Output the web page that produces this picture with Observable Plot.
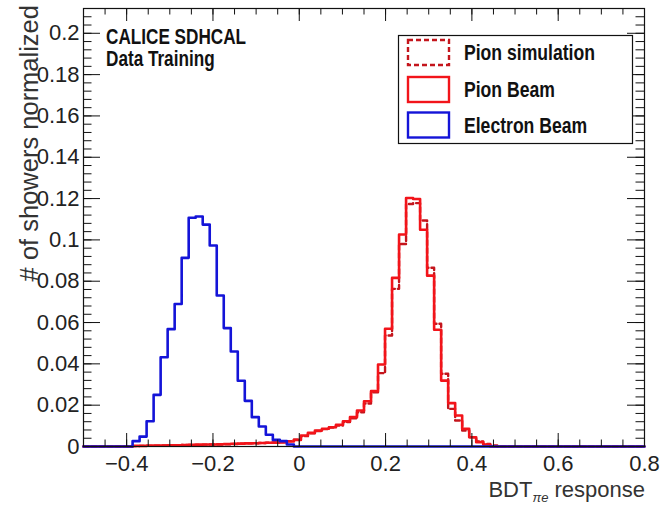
<!DOCTYPE html>
<html><head><meta charset="utf-8">
<script src="https://cdn.jsdelivr.net/npm/d3@7"></script>
<script src="https://cdn.jsdelivr.net/npm/@observablehq/plot@0.6"></script>
<style>
html,body{margin:0;padding:0;background:#fff;}
#chart svg{display:block;}
</style>
</head><body><div id="chart"></div>
<script>
// 80 bins from -0.5 to 0.8
const binStart = -0.5;
const binEnd = 0.8;
const electronBeam = [
  0,0,0,0,0,0,0,
  0.0026,0.0048,0.0122,0.0250,0.0432,0.0568,0.0690,0.0913,0.1107,0.1113,
  0.1074,0.0973,0.0731,0.0573,0.0460,0.0318,0.0221,0.0142,0.0097,0.0057,
  0.0032,0.0026,0.0010,
  0,0,0,0,0,0,0,0,0,0, 0,0,0,0,0,0,0,0,0,0, 0,0,0,0,0,0,0,0,0,0,
  0,0,0,0,0,0,0,0,0,0, 0,0,0,0,0,0,0,0,0,0
];
const pionBeam = [
  0,0,0,0,0,0,0,
  0.0003,0.0003,0.0004,0.0004,0.0005,0.0006,0.0006,0.0007,0.0008,0.0009,
  0.0010,0.0010,0.0011,0.0012,0.0013,0.0014,0.0015,0.0016,0.0017,0.0018,
  0.0019,0.0020,0.0024,
  0.0032,0.0053,0.0066,0.0077,0.0086,0.0093,0.0105,0.0122,0.0142,0.0174,
  0.0219,0.0268,0.0397,0.0570,0.0816,0.1026,0.1203,0.1198,0.1049,0.0827,
  0.0565,0.0319,0.0210,0.0150,0.0086,0.0045,0.0021,0.0010,
  0,0,0,0,0,0,0,0,0,0, 0,0,0,0,0,0,0,0,0,0, 0,0
];
const pionSimulation = [
  0,0,0,0,0,0,0,
  0.0002,0.0003,0.0003,0.0004,0.0005,0.0005,0.0006,0.0007,0.0007,0.0008,
  0.0009,0.0010,0.0010,0.0011,0.0012,0.0014,0.0015,0.0016,0.0017,0.0019,
  0.0020,0.0022,0.0026,
  0.0033,0.0050,0.0064,0.0075,0.0084,0.0092,0.0102,0.0118,0.0137,0.0166,
  0.0208,0.0262,0.0355,0.0537,0.0763,0.0980,0.1174,0.1178,0.1094,0.0865,
  0.0594,0.0352,0.0182,0.0126,0.0077,0.0045,0.0025,0.0012,0.0005,
  0,0,0,0,0,0,0,0,0,0, 0,0,0,0,0,0,0,0,0,0, 0
];
const xMajorTicks = [-0.4, -0.2, 0, 0.2, 0.4, 0.6, 0.8];
const xTickLabels = ["\u22120.4", "\u22120.2", "0", "0.2", "0.4", "0.6", "0.8"];
const yMajorTicks = [0, 0.02, 0.04, 0.06, 0.08, 0.1, 0.12, 0.14, 0.16, 0.18, 0.2];
const yTickLabels = ["0", "0.02", "0.04", "0.06", "0.08", "0.1", "0.12", "0.14", "0.16", "0.18", "0.2"];
const seriesNames = ["Pion simulation", "Pion Beam", "Electron Beam"];
const seriesColors = ["#c4151c", "#f2141a", "#1414d8"];
const yMax = 0.212;

const W = 669, H = 505;
const mL = 83, mR = 25, mT = 8, mB = 59;
const iw = W - mL - mR, ih = H - mT - mB;
const xMinorTicks = d3.range(-0.45, 0.8001, 0.05);
const yMinorTicks = d3.range(0, yMax, 0.004);

function steps(vals) {
  const w = (binEnd - binStart) / vals.length;
  const pts = vals.map((v, k) => ({x: binStart + k * w, y: v}));
  pts.push({x: binEnd, y: vals[vals.length - 1]});
  return pts;
}
const xLab = new Map(xMajorTicks.map((t, i) => [t, xTickLabels[i]]));
const yLab = new Map(yMajorTicks.map((t, i) => [t, yTickLabels[i]]));

const chart = Plot.plot({
  width: W, height: H,
  marginLeft: mL, marginRight: mR, marginTop: mT, marginBottom: mB,
  x: {domain: [binStart, binEnd]},
  y: {domain: [0, yMax]},
  style: {fontFamily: "'Liberation Sans', Arial, sans-serif", background: "white", color: "#222"},
  marks: [
    Plot.line(steps(pionSimulation), {x: "x", y: "y", curve: "step-after", stroke: seriesColors[0], strokeWidth: 2.4, strokeDasharray: "5,3"}),
    Plot.line(steps(pionBeam), {x: "x", y: "y", curve: "step-after", stroke: seriesColors[1], strokeWidth: 2.6}),
    Plot.line(steps(electronBeam), {x: "x", y: "y", curve: "step-after", stroke: seriesColors[2], strokeWidth: 2.6}),
    // inward ticks on all four sides
    Plot.tickX(xMajorTicks, {x: d => d, insetTop: ih - 13, stroke: "#111"}),
    Plot.tickX(xMinorTicks, {x: d => d, insetTop: ih - 6.5, stroke: "#111"}),
    Plot.tickX(xMajorTicks, {x: d => d, insetBottom: ih - 13, stroke: "#111"}),
    Plot.tickX(xMinorTicks, {x: d => d, insetBottom: ih - 6.5, stroke: "#111"}),
    Plot.tickY(yMajorTicks, {y: d => d, insetRight: iw - 17, stroke: "#111"}),
    Plot.tickY(yMinorTicks, {y: d => d, insetRight: iw - 8.5, stroke: "#111"}),
    Plot.tickY(yMajorTicks, {y: d => d, insetLeft: iw - 17, stroke: "#111"}),
    Plot.tickY(yMinorTicks, {y: d => d, insetLeft: iw - 8.5, stroke: "#111"}),
    Plot.frame({stroke: "#111", strokeWidth: 1.2}),
    Plot.axisX(xMajorTicks, {anchor: "bottom", tickSize: 0, tickPadding: 9, tickFormat: d => xLab.get(d), fontSize: 22, label: null}),
    Plot.axisY(yMajorTicks, {anchor: "left", tickSize: 0, tickPadding: 4, tickFormat: d => yLab.get(d), fontSize: 22, label: null})
  ]
});
document.getElementById("chart").appendChild(chart);

const svg = d3.select(chart);
const ff = "'Liberation Sans', Arial, sans-serif";
// y axis title
svg.append("text")
  .attr("transform", "translate(38,5) rotate(-90)")
  .attr("text-anchor", "end")
  .attr("font-family", ff).attr("font-size", 25.5).attr("fill", "#333")
  .text("# of showers normalized");
// x axis title with subscript
const xt = svg.append("text")
  .attr("x", 645).attr("y", 497)
  .attr("text-anchor", "end")
  .attr("font-family", ff).attr("font-size", 22).attr("fill", "#333");
xt.append("tspan").text("BDT");
xt.append("tspan").attr("dy", 5).attr("font-size", 13).attr("font-style", "italic").text("\u03c0e");
xt.append("tspan").attr("dy", -5).text(" response");

// top-left labels
const addBold = (txt, x, y, size) => svg.append("text")
  .attr("transform", `translate(${x},${y}) scale(0.88,1.1)`)
  .attr("text-anchor", "start")
  .attr("font-family", ff).attr("font-weight", "bold").attr("font-size", size).attr("fill", "#111")
  .text(txt);
addBold("CALICE SDHCAL", 106, 44, 19.5);
addBold("Data Training", 106, 66, 19.5);

// legend
const lg = svg.append("g");
lg.append("rect").attr("x", 398.5).attr("y", 35.5).attr("width", 234).attr("height", 108)
  .attr("fill", "white").attr("stroke", "#111").attr("stroke-width", 1.2);
const rowsY = [52.5, 89.5, 125];
seriesNames.forEach((name, i) => {
  lg.append("rect").attr("x", 408).attr("y", rowsY[i] - 12.5).attr("width", 41).attr("height", 25)
    .attr("fill", "white").attr("stroke", seriesColors[i]).attr("stroke-width", 2.4)
    .attr("stroke-dasharray", i === 0 ? "5,3" : null);
  lg.append("text")
    .attr("transform", `translate(464,${rowsY[i] + 7.5}) scale(0.88,1.1)`)
    .attr("text-anchor", "start")
    .attr("font-family", ff).attr("font-weight", "bold").attr("font-size", 20).attr("fill", "#111")
    .text(name);
});
</script>
</body></html>
